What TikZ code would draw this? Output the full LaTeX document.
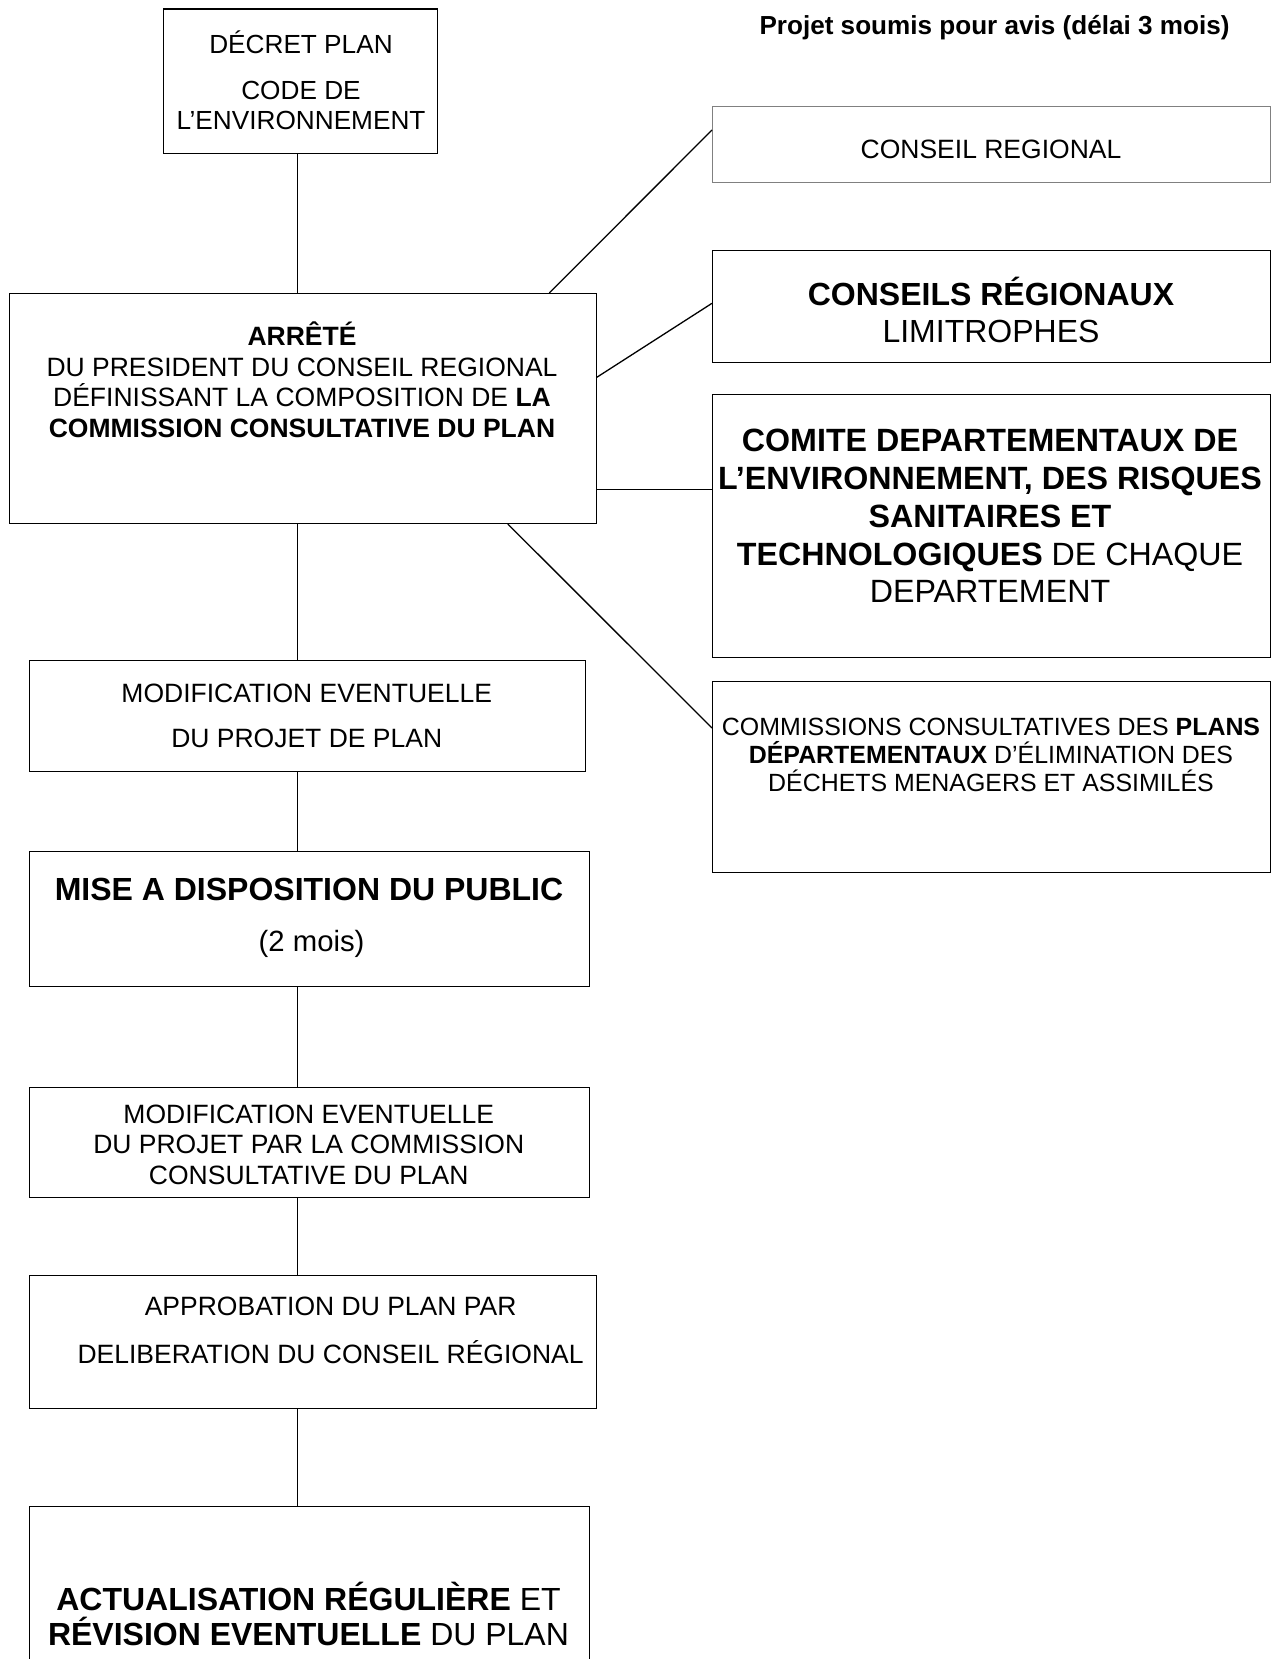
\documentclass[tikz,border=0pt]{standalone}
\usepackage{fontspec}
\setmainfont{Liberation Sans}
\usetikzlibrary{calc}
\definecolor{bordergray}{RGB}{128,128,128}
\newcommand\fsz[2]{\fontsize{#1}{#2}\selectfont}
\begin{document}
\begin{tikzpicture}[x=1pt,y=-1pt,
  box/.style={draw, line width=1.3pt, inner sep=0pt, anchor=north west},
  txt/.style={align=center, inner sep=0pt},
  link/.style={line width=1.3pt}]
\path[use as bounding box, fill=white] (0,0) rectangle (1277,1659);

% boxes
\node[box, minimum width=274pt, minimum height=144.5pt] (decret) at (162.5,8.5) {};
\node[box, draw=bordergray, minimum width=558pt, minimum height=76pt] (conseilreg) at (712,106) {};
\node[box, minimum width=558pt, minimum height=112pt] (conseils) at (712,250) {};
\node[box, minimum width=558pt, minimum height=263pt] (comite) at (712,394) {};
\node[box, minimum width=558pt, minimum height=191pt] (commissions) at (712,681) {};
\node[box, minimum width=587pt, minimum height=229.7pt] (arrete) at (8.5,293) {};
\node[box, minimum width=556.5pt, minimum height=111pt] (modif1) at (28.5,660) {};
\node[box, minimum width=560.5pt, minimum height=135pt] (mise) at (28.5,851) {};
\node[box, minimum width=560.5pt, minimum height=110pt] (modif2) at (28.5,1087) {};
\node[box, minimum width=567.5pt, minimum height=133pt] (approb) at (28.5,1275) {};
\node[box, minimum width=560.5pt, minimum height=170pt] (actual) at (28.5,1506) {};

% texts
\node[inner sep=0pt, anchor=base, font=\fsz{26.1}{30}\bfseries] (title) at (994.5,35) {Projet soumis pour avis (délai 3 mois)};
\node[txt, font=\fsz{26.2}{30.2}] (decret-t) at (301,80.5) {DÉCRET PLAN\\[15.5pt]CODE DE\\L’ENVIRONNEMENT};
\node[txt, font=\fsz{26.5}{30}] (conseilreg-t) at (991,149) {CONSEIL REGIONAL};
\node[txt, font=\fsz{32}{37}] (conseils-t) at (991,309.6) {\textbf{CONSEILS RÉGIONAUX}\\LIMITROPHES};
\node[txt, font=\fsz{32.2}{37.8}] (comite-t) at (990,516) {\textbf{COMITE DEPARTEMENTAUX DE}\\\textbf{L’ENVIRONNEMENT, DES RISQUES}\\\textbf{SANITAIRES ET}\\\textbf{TECHNOLOGIQUES} DE CHAQUE\\DEPARTEMENT};
\node[txt, font=\fsz{24.9}{28}] (commissions-t) at (991,755) {COMMISSIONS CONSULTATIVES DES \textbf{PLANS}\\\textbf{DÉPARTEMENTAUX} D'ÉLIMINATION DES\\DÉCHETS MENAGERS ET ASSIMILÉS};
\node[txt, font=\fsz{26.5}{30.67}] (arrete-t) at (302,379.8) {\textbf{ARRÊTÉ}\\DU PRESIDENT DU CONSEIL REGIONAL\\DÉFINISSANT LA COMPOSITION DE \textbf{LA}\\\textbf{COMMISSION CONSULTATIVE DU PLAN}};
\node[txt, font=\fsz{26.5}{45.5}] (modif1-t) at (306.75,715.75) {MODIFICATION EVENTUELLE\\DU PROJET DE PLAN};
\node[txt, font=\fsz{32}{36}\bfseries] (mise-t1) at (309,889) {MISE A DISPOSITION DU PUBLIC};
\node[txt, font=\fsz{29.3}{34}] (mise-t2) at (311.6,944.4) {(2 mois)};
\node[txt, font=\fsz{26.5}{30.75}] (modif2-t) at (308.75,1144.75) {MODIFICATION EVENTUELLE\\DU PROJET PAR LA COMMISSION\\CONSULTATIVE DU PLAN};
\node[txt, font=\fsz{26.5}{47.5}] (approb-t) at (330.6,1330.25) {APPROBATION DU PLAN PAR\\DELIBERATION DU CONSEIL RÉGIONAL};
\node[txt, font=\fsz{32}{35.5}] (actual-t) at (308.5,1614) {\textbf{ACTUALISATION RÉGULIÈRE} ET\\\textbf{RÉVISION EVENTUELLE} DU PLAN};

% connectors
\coordinate (spine) at (297.5,0);
\draw[link] (spine |- decret.south) -- (spine |- arrete.north);
\draw[link] (spine |- arrete.south) -- (spine |- modif1.north);
\draw[link] (spine |- modif1.south) -- (spine |- mise.north);
\draw[link] (spine |- mise.south) -- (spine |- modif2.north);
\draw[link] (spine |- modif2.south) -- (spine |- approb.north);
\draw[link] (spine |- approb.south) -- (spine |- actual.north);

\draw[link] ($(arrete.north east)+(-47.5,0)$) -- ($(conseilreg.north west)+(0,24)$);
\draw[link] ($(arrete.north east)+(0,84.3)$) -- ($(conseils.north west)+(0,53.3)$);
\draw[link] ($(arrete.north east)+(0,196.3)$) -- ($(comite.north west)+(0,95.3)$);
\draw[link] ($(arrete.south east)+(-89,0)$) -- ($(commissions.north west)+(0,47)$);
\end{tikzpicture}
\end{document}
